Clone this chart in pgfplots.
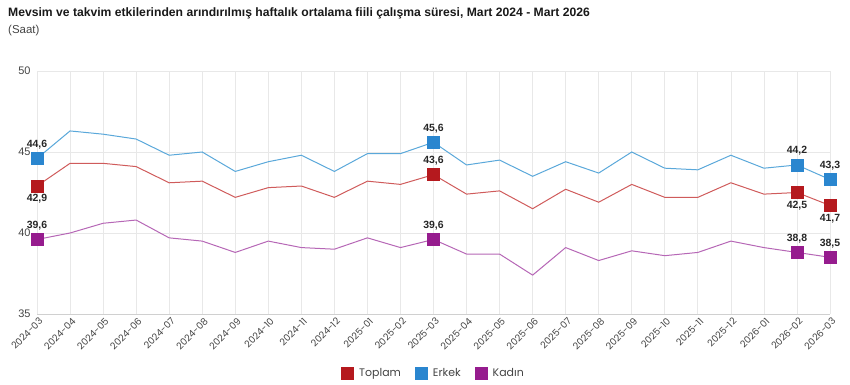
\documentclass[border=0pt]{standalone}
\usepackage{pgfplots}
\pgfplotsset{compat=1.18}
\usepackage{pgfplotstable}
\usepackage{fontspec}
\setmainfont{Liberation Sans}
\newfontfamily\pop{Poppins}
\definecolor{tred}{HTML}{B5191E}
\definecolor{tblue}{HTML}{2A86CF}
\definecolor{tpurple}{HTML}{961C8E}
\definecolor{lred}{HTML}{CF5B5B}
\definecolor{lblue}{HTML}{5AA8DA}
\definecolor{lpurple}{HTML}{B667B6}
\definecolor{gridgray}{HTML}{E8E8E8}
\definecolor{axisgray}{HTML}{D0D0D0}
\definecolor{tickgray}{HTML}{444444}
\pgfplotstableread{
x t e k
0 42.9 44.6 39.6
1 44.3 46.3 40.0
2 44.3 46.1 40.6
3 44.1 45.8 40.8
4 43.1 44.8 39.7
5 43.2 45.0 39.5
6 42.2 43.8 38.8
7 42.8 44.4 39.5
8 42.9 44.8 39.1
9 42.2 43.8 39.0
10 43.2 44.9 39.7
11 43.0 44.9 39.1
12 43.6 45.6 39.6
13 42.4 44.2 38.7
14 42.6 44.5 38.7
15 41.5 43.5 37.4
16 42.7 44.4 39.1
17 41.9 43.7 38.3
18 43.0 45.0 38.9
19 42.2 44.0 38.6
20 42.2 43.9 38.8
21 43.1 44.8 39.5
22 42.4 44.0 39.1
23 42.5 44.2 38.8
24 41.7 43.3 38.5
}\datatable
\pgfplotsset{
  lbl/.style={nodes near coords={\pgfmathprintnumber[assume math mode=true, use comma, fixed, fixed zerofill, precision=1]{\pgfplotspointmeta}},
    nodes near coords style={font=\bfseries\fontsize{10.5}{12}\selectfont, text=black!85}},
  lblabove/.style={lbl, nodes near coords style={anchor=south, yshift=6bp}},
  lblbelow/.style={lbl, nodes near coords style={anchor=north, yshift=-5bp}},
}
\begin{document}
\begin{tikzpicture}
\path[use as bounding box] (-37bp,-71bp) rectangle (813bp,314bp);
\begin{axis}[
  at={(0,0)}, anchor=south west,
  scale only axis, width=793bp, height=243bp,
  xmin=0, xmax=24, ymin=35, ymax=50,
  clip=false,
  xtick={0,...,24},
  xticklabels={2024-03,2024-04,2024-05,2024-06,2024-07,2024-08,2024-09,2024-10,2024-11,2024-12,2025-01,2025-02,2025-03,2025-04,2025-05,2025-06,2025-07,2025-08,2025-09,2025-10,2025-11,2025-12,2026-01,2026-02,2026-03},
  ytick={35,40,45,50},
  yticklabels={35,40,45,50},
  grid=major,
  major grid style={draw=gridgray, line width=0.7bp},
  axis line style={draw=none},
  tick style={draw=none},
  yticklabel style={font=\fontsize{11}{12}\selectfont, text=tickgray, xshift=-3bp},
  xticklabel style={rotate=45, anchor=north east, font=\pop\fontsize{9.5}{10}\selectfont, text=tickgray, inner sep=1bp, yshift=-2bp},
  legend style={draw=none, at={(0.5,0)}, anchor=center, yshift=-59bp, legend columns=-1,
    font=\pop\fontsize{11}{12}\selectfont, text=tickgray,
    /tikz/every odd column/.append style={column sep=4bp},
    /tikz/every even column/.append style={column sep=12bp}},
  legend cell align=left,
]
\addlegendimage{only marks, mark=square*, mark size=6bp, mark options={fill=tred, draw=tred}}
\addlegendentry{Toplam}
\addlegendimage{only marks, mark=square*, mark size=6bp, mark options={fill=tblue, draw=tblue}}
\addlegendentry{Erkek}
\addlegendimage{only marks, mark=square*, mark size=6bp, mark options={fill=tpurple, draw=tpurple}}
\addlegendentry{Kadın}

\addplot[lred, line width=1bp, no marks, forget plot] table[x=x, y=t] {\datatable};
\addplot[lblue, line width=1bp, no marks, forget plot] table[x=x, y=e] {\datatable};
\addplot[lpurple, line width=1bp, no marks, forget plot] table[x=x, y=k] {\datatable};

\draw[axisgray, line width=1bp] (rel axis cs:0,0) -- (rel axis cs:1,0);

% markers with labels
\addplot[only marks, mark=square*, mark size=6bp, mark options={fill=tred, draw=tred}, forget plot, lblbelow]
  coordinates {(0,42.9) (23,42.5) (24,41.7)};
\addplot[only marks, mark=square*, mark size=6bp, mark options={fill=tred, draw=tred}, forget plot, lblabove]
  coordinates {(12,43.6)};
\addplot[only marks, mark=square*, mark size=6bp, mark options={fill=tblue, draw=tblue}, forget plot, lblabove]
  coordinates {(0,44.6) (12,45.6) (23,44.2) (24,43.3)};
\addplot[only marks, mark=square*, mark size=6bp, mark options={fill=tpurple, draw=tpurple}, forget plot, lblabove]
  coordinates {(0,39.6) (12,39.6) (23,38.8) (24,38.5)};
\end{axis}
\node[anchor=north west, inner sep=0pt, font=\bfseries\fontsize{12.2}{14}\selectfont, text=black!90] at (-29bp,307bp) {Mevsim ve takvim etkilerinden arındırılmış haftalık ortalama fiili çalışma süresi, Mart 2024 - Mart 2026};
\node[anchor=north west, inner sep=0pt, font=\fontsize{11.5}{13}\selectfont, text=tickgray] at (-29bp,289bp) {(Saat)};
\end{tikzpicture}
\end{document}
